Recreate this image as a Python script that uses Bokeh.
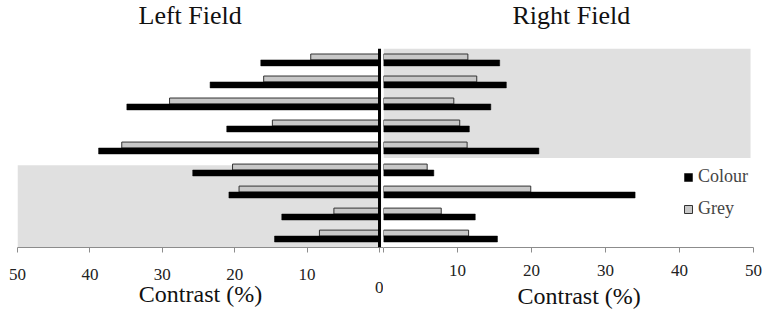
from bokeh.plotting import figure
from bokeh.models import (ColumnDataSource, Range1d, FixedTicker, Span, BoxAnnotation,
                          Legend, LegendItem, Title)
from bokeh.layouts import row
from bokeh.embed import file_html
from bokeh.resources import INLINE

# ---- data (contrast %, rows from top to bottom) ----
rows = list(range(9))
left_colour = [16.4, 23.4, 34.9, 21.1, 38.8, 25.8, 20.8, 13.5, 14.5]
left_grey = [9.5, 16.0, 29.0, 14.8, 35.6, 20.3, 19.4, 6.3, 8.3]
right_colour = [15.7, 16.6, 14.5, 11.6, 21.0, 6.8, 34.0, 12.4, 15.4]
right_grey = [11.4, 12.6, 9.5, 10.3, 11.3, 5.9, 19.9, 7.8, 11.5]
left_ticks = [-50, -40, -30, -20, -10, 0]
right_ticks = [0, 10, 20, 30, 40, 50]

FONT = "Liberation Serif"
BAR_H = 0.27
Y_TOP, Y_BOT = -0.52, 8.52
GREY_FILL = "#c8c8c8"
BAND = "#e0e0e0"

src = ColumnDataSource(dict(
    y_grey=[r - BAR_H / 2 for r in rows],
    y_col=[r + BAR_H / 2 for r in rows],
    lc=[-v for v in left_colour],
    lg=[-v for v in left_grey],
    rc=right_colour,
    rg=right_grey,
    zero=[0] * len(rows),
))


def base(width, xr, bl, br):
    f = figure(width=width, height=316, output_backend="svg", toolbar_location=None,
               x_range=xr, y_range=Range1d(Y_BOT, Y_TOP))
    f.min_border_left = bl
    f.min_border_right = br
    f.min_border_top = 47
    f.min_border_bottom = 69
    f.outline_line_color = None
    f.xgrid.visible = False
    f.ygrid.visible = False
    f.yaxis.visible = False
    ax = f.xaxis[0]
    ax.axis_line_color = "#8c8c8c"
    ax.major_tick_line_color = "#8c8c8c"
    ax.major_tick_out = 5
    ax.major_tick_in = 0
    ax.minor_tick_line_color = None
    ax.major_label_text_font = FONT
    ax.major_label_text_font_size = "17px"
    ax.major_label_text_color = "#222222"
    ax.major_label_standoff = 12
    ax.axis_label_text_font = FONT
    ax.axis_label_text_font_size = "24px"
    ax.axis_label_text_font_style = "normal"
    ax.axis_label_text_color = "#111111"
    f.title.text_font = FONT
    f.title.text_font_size = "26px"
    f.title.text_font_style = "normal"
    f.title.text_color = "#111111"
    f.title.text_line_height = 0.58
    f.title.align = "left"
    f.title.vertical_align = "top"
    f.title.standoff = 0
    return f


# ---------- left field ----------
pl = base(383, Range1d(-50, 0.55), 17, 0)
pl.title.text = "Left Field\n"
pl.title.offset = 121
pl.add_layout(BoxAnnotation(left=-50, right=0, top=4.78, bottom=Y_BOT,
                            fill_color=BAND, fill_alpha=1, line_color=None, level="underlay"))
gl = pl.hbar(y="y_grey", left="lg", right="zero", height=BAR_H, source=src,
             fill_color=GREY_FILL, line_color="#333333", line_width=1)
cl = pl.hbar(y="y_col", left="lc", right="zero", height=BAR_H, source=src,
             fill_color="black", line_color="black", line_width=0.5)
pl.add_layout(Span(location=0, dimension="height", line_color="black", line_width=3))
axl = pl.xaxis[0]
axl.ticker = FixedTicker(ticks=left_ticks)
axl.major_label_overrides = {t: ("\n0" if t == 0 else str(abs(t))) for t in left_ticks}
axl.major_label_text_line_height = 0.7
axl.axis_label = "Contrast (%)"
axl.axis_label_standoff = -19

# ---------- right field ----------
pr = base(386, Range1d(0, 50), 0, 16)
pr.title.text = "Right Field\n"
pr.title.offset = 129
pr.add_layout(BoxAnnotation(left=0, right=49.6, top=Y_TOP, bottom=4.45,
                            fill_color=BAND, fill_alpha=1, line_color=None, level="underlay"))
gr = pr.hbar(y="y_grey", left="zero", right="rg", height=BAR_H, source=src,
             fill_color=GREY_FILL, line_color="#333333", line_width=1)
cr = pr.hbar(y="y_col", left="zero", right="rc", height=BAR_H, source=src,
             fill_color="black", line_color="black", line_width=0.5)
axr = pr.xaxis[0]
axr.ticker = FixedTicker(ticks=right_ticks)
axr.major_label_overrides = {t: ("" if t == 0 else str(t)) for t in right_ticks}
pr.add_layout(Title(text="Contrast (%)", align="left", offset=134, text_font=FONT,
                    text_font_size="24px", text_font_style="normal", text_color="#111111",
                    standoff=4), "below")

legend = Legend(items=[LegendItem(label="Colour", renderers=[cr]),
                       LegendItem(label="Grey", renderers=[gr])],
                location=(300, 28), padding=0, margin=0, border_line_color=None,
                background_fill_alpha=0, glyph_width=10, glyph_height=10,
                label_height=20, spacing=11, label_text_font=FONT,
                label_text_font_size="18px", label_standoff=5)
pr.add_layout(legend)

layout = row(pl, pr, spacing=0)
open("out.html", "w").write(file_html(layout, INLINE))
